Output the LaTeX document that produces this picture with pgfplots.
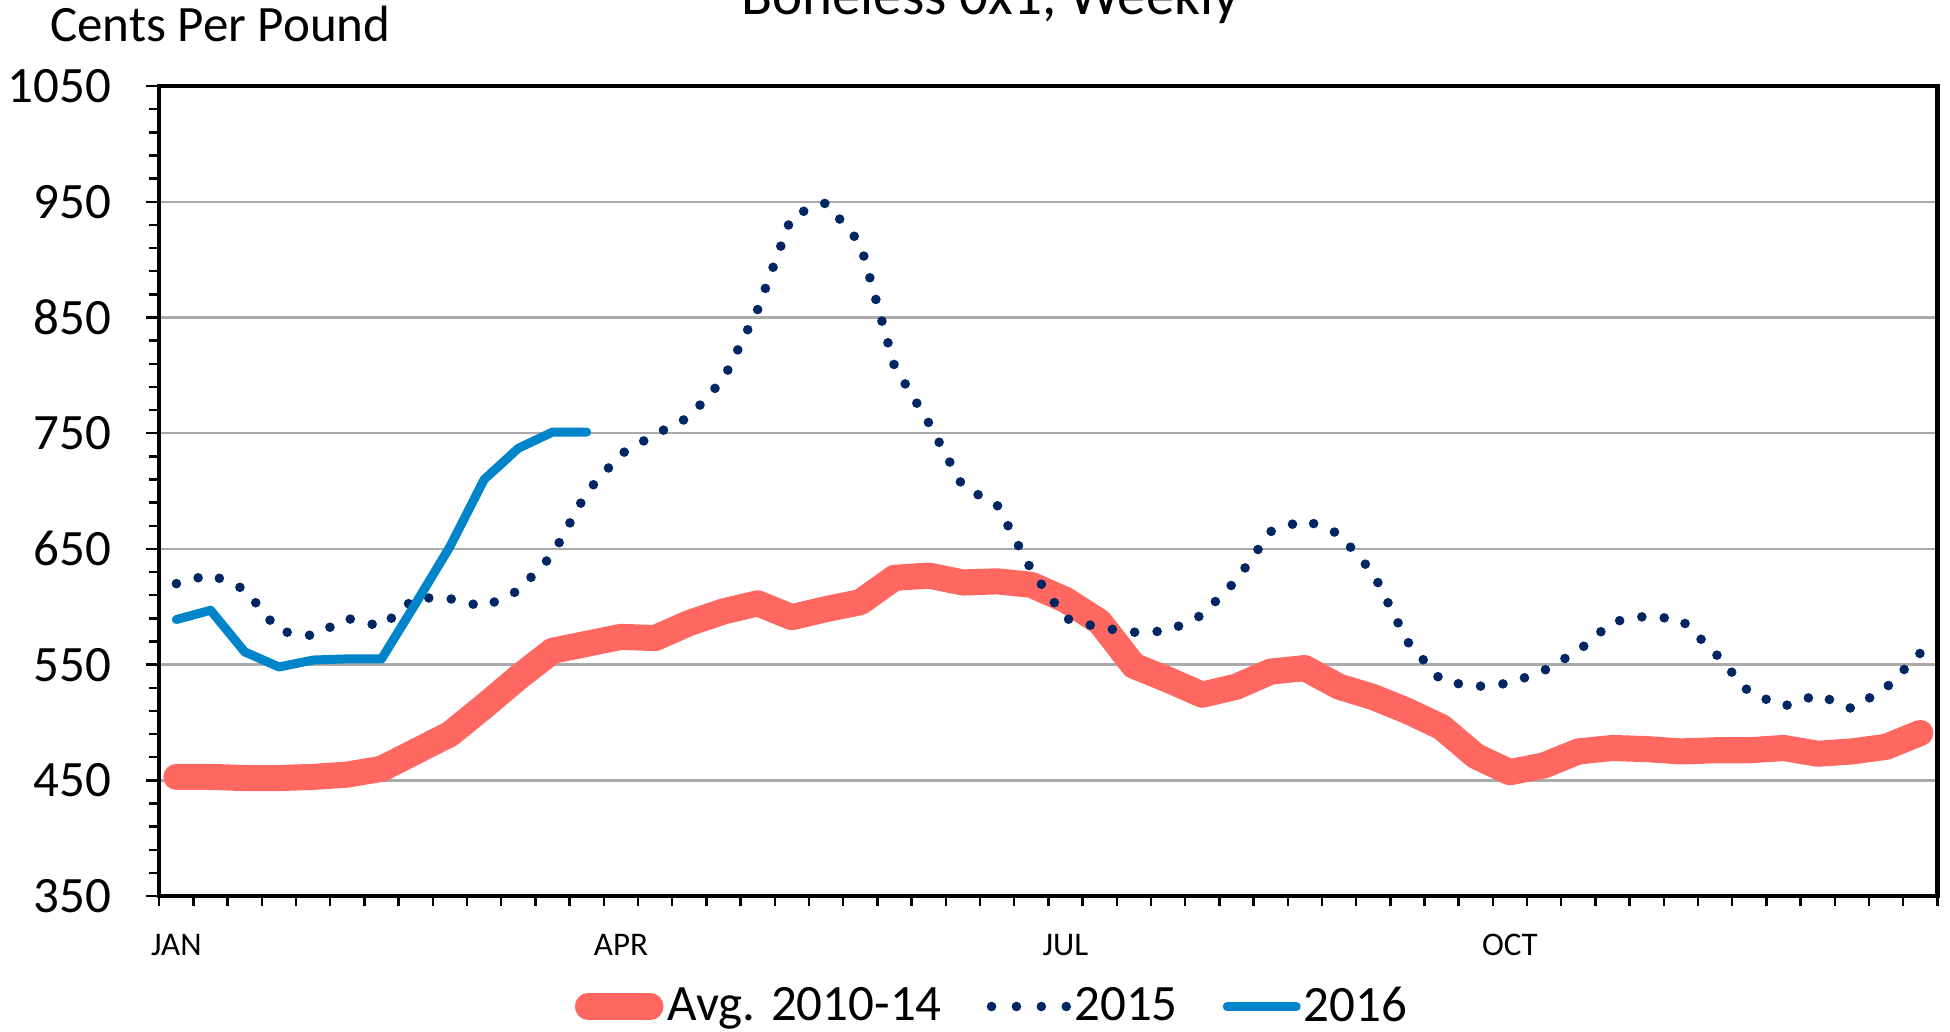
\documentclass[border=0pt]{standalone}
\usepackage{fontspec}
\setmainfont{Carlito}
\usepackage{pgfplots}
\pgfplotsset{compat=1.18}
\definecolor{avgred}{RGB}{255,104,97}
\definecolor{navy}{RGB}{0,38,100}
\definecolor{blue16}{RGB}{0,133,202}
\definecolor{gridgray}{RGB}{170,170,170}
\begin{document}
\begin{tikzpicture}
\begin{axis}[
  name=ax,
  scale only axis,
  width=592.7pt, height=270pt,
  xmin=0, xmax=52, ymin=350, ymax=1050,
  xtick={0.5,13.5,26.5,39.5},
  xticklabels={JAN,APR,JUL,OCT},
  minor xtick={0,1,...,52},
  ytick={350,450,...,1050},
  yticklabels={350,450,550,650,750,850,950,1050},
  minor ytick={370,390,410,430,470,490,510,530,570,590,610,630,670,690,710,730,770,790,810,830,870,890,910,930,970,990,1010,1030},
  tick align=outside,
  xtick pos=bottom, ytick pos=left,
  major tick length=4.5pt,
  minor tick length=3.3pt,
  every tick/.style={black, line width=0.8pt},
  every major x tick/.style={draw=none},
  ymajorgrids,
  major grid style={gridgray, line width=0.8pt},
  axis line style={black, line width=1.4pt},
  /pgf/number format/assume math mode=true,
  yticklabel style={font=\fontsize{17}{20}\selectfont, xshift=-8pt},
  xticklabel style={font=\fontsize{11}{13}\selectfont, yshift=-4.6pt},
  legend columns=3,
  legend style={draw=none, fill=none, at={(0.4686,-0.1363)}, anchor=center,
    font=\fontsize{17}{20}\selectfont, nodes={inner sep=1pt}, column sep=0pt,
    /tikz/every even column/.append style={column sep=14pt}},
  legend cell align=left,
]
\addplot[avgred, line width=8.7pt, line cap=round, line join=round,
  legend image code/.code={\draw[avgred, line width=8.7pt, line cap=round] (4.35pt,0pt) -- (25.2pt,0pt); \path[draw=none, fill=none] (0pt,-4pt) rectangle (30pt,4pt);}]
coordinates {
(0.5,453)(1.5,453)(2.5,452)(3.5,452)(4.5,453)(5.5,455)(6.5,460)(7.5,475)(8.5,490)(9.5,514)
(10.5,539)(11.5,562)(12.5,568)(13.5,574)(14.5,573)(15.5,586)(16.5,596)(17.5,603)(18.5,591)(19.5,598)
(20.5,604)(21.5,625)(22.5,627)(23.5,621)(24.5,622)(25.5,619)(26.5,606)(27.5,587)(28.5,549)(29.5,537)
(30.5,524)(31.5,531)(32.5,544)(33.5,547)(34.5,531)(35.5,522)(36.5,510)(37.5,496)(38.5,471)(39.5,457)
(40.5,463)(41.5,475)(42.5,478)(43.5,477)(44.5,475)(45.5,476)(46.5,476)(47.5,478)(48.5,473)(49.5,475)
(50.5,479)(51.5,491)
};
\addlegendentry{Avg. 2010-14}
\addplot[navy, line width=3.2pt, line cap=round, dash pattern=on 0pt off 7.5pt,
  legend image code/.code={\draw[navy, line width=3.2pt, line cap=round, dash pattern=on 0pt off 8.3pt] (1.6pt,0pt) -- (26.6pt,0pt); \path[draw=none, fill=none] (0pt,-4pt) rectangle (27pt,4pt);}]
coordinates {
(0.5,620)(1.5,628)(2.5,615)(3.5,579)(4.5,575)(5.5,590)(6.5,583)(7.5,608)(8.5,607)(9.5,600)
(10.5,614)(11.5,645)(12.5,699)(13.5,732)(14.5,749)(15.5,764)(16.5,797)(17.5,857)(18.5,938)(19.5,949)
(20.5,914)(21.5,808)(22.5,759)(23.5,704)(24.5,688)(25.5,632)(26.5,590)(27.5,582)(28.5,578)(29.5,579)
(30.5,593)(31.5,623)(32.5,665)(33.5,675)(34.5,663)(35.5,629)(36.5,570)(37.5,536)(38.5,531)(39.5,534)
(40.5,545)(41.5,562)(42.5,587)(43.5,592)(44.5,589)(45.5,560)(46.5,526)(47.5,514)(48.5,524)(49.5,512)
(50.5,530)(51.5,560)
};
\addlegendentry{2015}
\addplot[blue16, line width=3pt, line cap=round, line join=round,
  legend image code/.code={\draw[blue16, line width=3pt, line cap=round] (1.5pt,0pt) -- (24.5pt,0pt); \path[draw=none, fill=none] (0pt,-4pt) rectangle (26pt,4pt);}]
coordinates {
(0.5,589)(1.5,597)(2.5,561)(3.5,548)(4.5,554)(5.5,555)(6.5,555)(7.5,603)(8.5,652)(9.5,710)
(10.5,737)(11.5,751)(12.5,751)
};
\addlegendentry{2016}
\end{axis}
\node[font=\fontsize{17}{20}\selectfont, anchor=base west, inner sep=0pt] at ([xshift=-36.5pt, yshift=15pt]ax.north west) {Cents Per Pound};
\node[font=\fontsize{19}{22}\selectfont, anchor=base, inner sep=0pt] at ([xshift=277pt, yshift=24pt]ax.north west) {Boneless 0x1, Weekly};
\pgfresetboundingbox
\path[use as bounding box] ([xshift=-53.1pt,yshift=-45.3pt]ax.south west) rectangle ([xshift=4.2pt,yshift=28.7pt]ax.north east);
\end{tikzpicture}
\end{document}
